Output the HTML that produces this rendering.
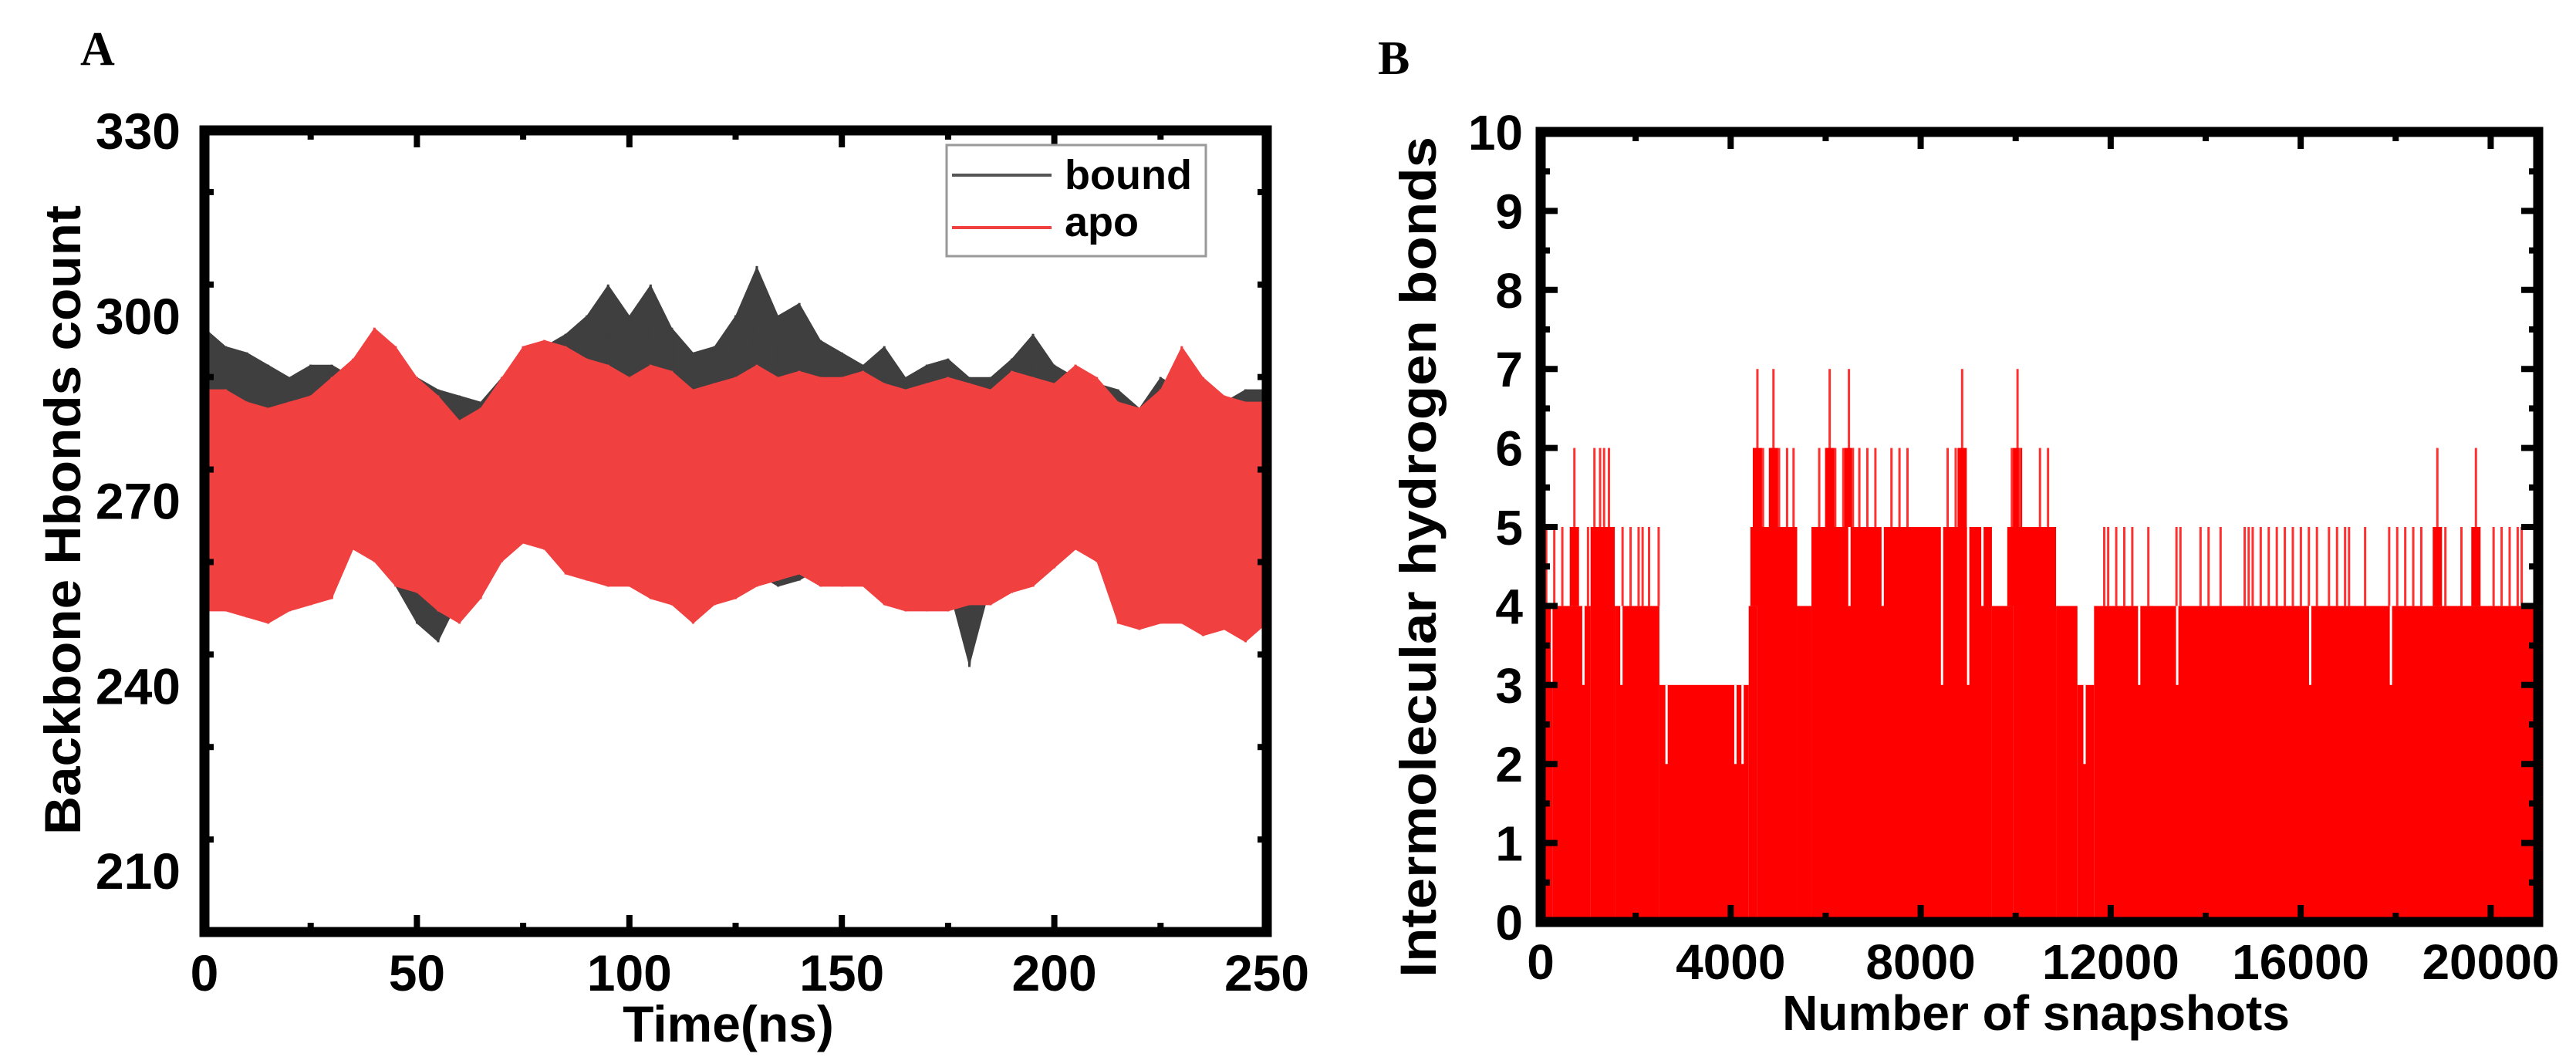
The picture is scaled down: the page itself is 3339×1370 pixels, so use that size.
<!DOCTYPE html>
<html><head><meta charset="utf-8"><style>
html,body{margin:0;padding:0;background:#fff;}
svg{display:block;font-family:"Liberation Sans",Arial,sans-serif;}
</style></head><body>
<svg id="fig" width="3339" height="1370" viewBox="0 0 3339 1370" xmlns="http://www.w3.org/2000/svg">
<text x="104" y="84" font-family="Liberation Serif,serif" font-weight="bold" font-size="62">A</text>
<text x="1786" y="96" font-family="Liberation Serif,serif" font-weight="bold" font-size="62">B</text>
<g id="pa"></g>
<g id="pb"></g>
</svg>
<script>
// ---- Panel A data (envelopes of Hbond count, per 5 ns) ----
const timeNs = [0,5,10,15,20,25,30,35,40,45,50,55,60,65,70,75,80,85,90,95,100,105,110,115,120,125,130,135,140,145,150,155,160,165,170,175,180,185,190,195,200,205,210,215,220,225,230,235,240,245,250];
const boundUpper = [298,295,294,292,290,292,292,290,288,290,290,288,287,286,290,292,295,297,300,305,300,305,298,294,295,300,308,300,302,296,294,292,295,290,292,293,290,290,293,297,292,290,289,288,285,290,288,285,286,288,288];
const boundLower = [258,255,254,256,257,256,256,264,262,256,250,247,254,258,262,265,263,260,259,258,258,258,257,256,256,258,258,256,257,259,262,260,259,258,257,256,243,256,257,258,262,265,262,254,251,252,252,254,255,256,254];
const apoUpper = [288,288,286,285,286,287,290,293,298,295,290,287,283,285,290,295,296,295,293,292,290,292,291,288,289,290,292,290,291,290,290,291,289,288,289,290,289,288,291,290,289,292,290,286,285,288,295,290,287,286,286];
const apoLower = [252,252,251,250,252,253,254,262,260,256,255,252,250,254,260,263,262,258,257,256,256,254,253,250,253,254,256,257,258,256,256,256,253,252,252,252,253,253,255,256,259,262,260,250,249,250,250,248,249,247,250];
const aXTicks = [0,50,100,150,200,250];
const aYTicks = [210,240,270,300,330];

// ---- Panel B data ----
const segStart = [0,250,1050,1560,2500,4380,4550,5400,5700,9500,9950,10850,11300,11650];
const segEnd   = [250,1050,1560,2500,4380,4550,5400,5700,9500,9950,10850,11300,11650,21000];
const segLevel = [3,4,5,4,3,4,5,4,5,4,5,4,3,4];
const spikeX = [118,287,456,710,997,1132,1251,1335,1437,1555,1724,1893,2062,2146,2282,2484,4512,4563,4681,4850,4901,5019,5188,5324,5864,6033,6084,6202,6371,6490,6574,6709,6878,7047,7385,7554,7723,8568,8737,8873,9920,10039,10089,10512,10681,11864,11948,12117,12286,12455,12793,13385,13469,13892,14061,14314,14821,14906,14990,15159,15328,15497,15666,15835,16004,16173,16342,16596,16765,16934,17018,17356,17863,18032,18201,18370,18539,18877,19046,19384,19689,20061,20230,20399,20568,20653];
const spikeVal = [5,5,5,6,5,6,6,6,6,5,5,5,5,5,5,5,6,7,6,6,7,6,6,6,6,6,7,6,6,7,6,6,6,6,6,6,6,6,6,7,6,7,6,6,6,5,5,5,5,5,5,5,5,5,5,5,5,5,5,5,5,5,5,5,5,5,5,5,5,5,5,5,5,5,5,5,5,6,5,5,6,5,5,5,5,5];
const dipX = [900,1700,2650,4100,4250,6500,7200,8450,9000,9300,11450,12600,13400,16200,17900];
const dipVal = [3,3,2,2,2,4,4,3,3,4,2,3,3,3,3];
const bXTicks = [0,4000,8000,12000,16000,20000];
const bYTicks = [0,1,2,3,4,5,6,7,8,9,10];

const NS = 'http://www.w3.org/2000/svg';
function mk(parent, tag, attrs, text) {
  const e = document.createElementNS(NS, tag);
  for (const k in attrs) e.setAttribute(k, attrs[k]);
  if (text !== undefined) e.textContent = text;
  parent.appendChild(e);
  return e;
}

// ---- Panel A ----
const A = {l:265, r:1642, t:169, b:1208, x0:0, x1:250, y0:200, y1:330};
const ax = v => A.l + (v - A.x0) / (A.x1 - A.x0) * (A.r - A.l);
const ay = v => A.b - (v - A.y0) / (A.y1 - A.y0) * (A.b - A.t);
const pa = document.getElementById('pa');

function band(up, lo, color, name) {
  const g = mk(pa, 'g', {});
  
  
  let pts = [];
  for (let i = 0; i < timeNs.length; i++) pts.push(ax(timeNs[i]) + ',' + ay(up[i]));
  for (let i = timeNs.length - 1; i >= 0; i--) pts.push(ax(timeNs[i]) + ',' + ay(lo[i]));
  const poly = mk(g, 'polygon', {points: pts.join(' '), fill: color});
  
  
  let z = [];
  for (let i = 0; i < timeNs.length; i++) {
    z.push(ax(timeNs[i]) + ',' + ay(up[i]));
    z.push(ax(timeNs[i]) + ',' + ay(lo[i]));
  }
  const line = mk(g, 'polyline', {points: z.join(' '), fill: 'none', stroke: color, 'stroke-width': 3});
  
  
}
band(boundUpper, boundLower, '#3f3f3f', 'series-bound');
band(apoUpper, apoLower, '#f04040', 'series-apo');

// A frame
const fa = mk(pa, 'rect', {x: A.l, y: A.t, width: A.r - A.l, height: A.b - A.t, fill: 'none', stroke: '#000', 'stroke-width': 13});


// ticks A
for (let v = 0; v <= 250; v += 25) {
  const major = v % 50 === 0, len = major ? 22 : 12;
  mk(pa, 'line', {x1: ax(v), x2: ax(v), y1: A.b, y2: A.b - len, stroke: '#000', 'stroke-width': 8});
  mk(pa, 'line', {x1: ax(v), x2: ax(v), y1: A.t, y2: A.t + len, stroke: '#000', 'stroke-width': 8});
}
for (let v = 200; v <= 330; v += 15) {
  const major = v % 30 === 0, len = major ? 22 : 12;
  mk(pa, 'line', {x1: A.l, x2: A.l + len, y1: ay(v), y2: ay(v), stroke: '#000', 'stroke-width': 8});
  mk(pa, 'line', {x1: A.r, x2: A.r - len, y1: ay(v), y2: ay(v), stroke: '#000', 'stroke-width': 8});
}
aXTicks.forEach(v => {
  const t = mk(pa, 'text', {x: ax(v), y: 1284, 'text-anchor': 'middle', 'font-size': 66, 'font-weight': 'bold'}, String(v));
  
  
});
aYTicks.forEach(v => {
  const t = mk(pa, 'text', {x: 234, y: ay(v) + 24, 'text-anchor': 'end', 'font-size': 66, 'font-weight': 'bold'}, String(v));
  
  
});
const axt = mk(pa, 'text', {x: 944, y: 1350, 'text-anchor': 'middle', 'font-size': 66, 'font-weight': 'bold'}, 'Time(ns)');


const ayt = mk(pa, 'text', {x: 0, y: 0, 'text-anchor': 'middle', 'font-size': 66, 'font-weight': 'bold', transform: 'translate(104,674) rotate(-90)', textLength: 816, lengthAdjust: 'spacingAndGlyphs'}, 'Backbone Hbonds  count');


// legend
const lg = mk(pa, 'g', {});


mk(lg, 'rect', {x: 1227, y: 188, width: 336, height: 144, fill: '#fff', stroke: '#999', 'stroke-width': 3});
const e1 = mk(lg, 'g', {});


mk(e1, 'line', {x1: 1234, x2: 1363, y1: 227, y2: 227, stroke: '#555', 'stroke-width': 4});
mk(e1, 'text', {x: 1380, y: 245, 'font-size': 54, 'font-weight': 'bold'}, 'bound');
const e2 = mk(lg, 'g', {});


mk(e2, 'line', {x1: 1234, x2: 1363, y1: 295, y2: 295, stroke: '#f04040', 'stroke-width': 4});
mk(e2, 'text', {x: 1380, y: 306, 'font-size': 54, 'font-weight': 'bold'}, 'apo');

// ---- Panel B ----
const B = {l:1997, r:3290, t:171, b:1195, x0:0, x1:21000, y0:0, y1:10};
const bx = v => B.l + (v - B.x0) / (B.x1 - B.x0) * (B.r - B.l);
const by = v => B.b - (v - B.y0) / (B.y1 - B.y0) * (B.b - B.t);
const pb = document.getElementById('pb');
const RED = '#ff0000';
for (let i = 0; i < segStart.length; i++) {
  const r = mk(pb, 'rect', {x: bx(segStart[i]), y: by(segLevel[i]), width: bx(segEnd[i]) - bx(segStart[i]), height: by(0) - by(segLevel[i]), fill: RED});
  
  
}
function levelAt(x) {
  for (let i = 0; i < segStart.length; i++) if (x >= segStart[i] && x < segEnd[i]) return segLevel[i];
  return 0;
}
for (let i = 0; i < spikeX.length; i++) {
  const base = levelAt(spikeX[i]);
  const l = mk(pb, 'line', {x1: bx(spikeX[i]), x2: bx(spikeX[i]), y1: by(base), y2: by(spikeVal[i]), stroke: '#ff3030', 'stroke-width': 3});
  
  
  if (spikeVal[i] - base > 1) {
    const w = mk(pb, 'rect', {x: bx(spikeX[i]) - 6, y: by(base + 1), width: 12, height: by(base) - by(base + 1), fill: RED});
    
    
  }
}
for (let i = 0; i < dipX.length; i++) {
  const base = levelAt(dipX[i]);
  const l = mk(pb, 'line', {x1: bx(dipX[i]), x2: bx(dipX[i]), y1: by(base), y2: by(dipVal[i]), stroke: '#fff', 'stroke-width': 3});
  
  
}
const fb = mk(pb, 'rect', {x: B.l, y: B.t, width: B.r - B.l, height: B.b - B.t, fill: 'none', stroke: '#000', 'stroke-width': 13});


for (let v = 0; v <= 21000; v += 2000) {
  const major = v % 4000 === 0, len = major ? 22 : 12;
  mk(pb, 'line', {x1: bx(v), x2: bx(v), y1: B.b, y2: B.b - len, stroke: '#000', 'stroke-width': 8});
  mk(pb, 'line', {x1: bx(v), x2: bx(v), y1: B.t, y2: B.t + len, stroke: '#000', 'stroke-width': 8});
}
for (let v = 0; v <= 10; v += 0.5) {
  const major = v % 1 === 0, len = major ? 22 : 12;
  mk(pb, 'line', {x1: B.l, x2: B.l + len, y1: by(v), y2: by(v), stroke: '#000', 'stroke-width': 8});
  mk(pb, 'line', {x1: B.r, x2: B.r - len, y1: by(v), y2: by(v), stroke: '#000', 'stroke-width': 8});
}
bXTicks.forEach(v => {
  const t = mk(pb, 'text', {x: bx(v), y: 1269, 'text-anchor': 'middle', 'font-size': 64, 'font-weight': 'bold'}, String(v));
  
  
});
bYTicks.forEach(v => {
  const t = mk(pb, 'text', {x: 1974, y: by(v) + 23, 'text-anchor': 'end', 'font-size': 64, 'font-weight': 'bold'}, String(v));
  
  
});
const bxt = mk(pb, 'text', {x: 2639, y: 1335, 'text-anchor': 'middle', 'font-size': 64, 'font-weight': 'bold'}, 'Number of snapshots');


const byt = mk(pb, 'text', {x: 0, y: 0, 'text-anchor': 'middle', 'font-size': 66, 'font-weight': 'bold', transform: 'translate(1861,722) rotate(-90)', textLength: 1090, lengthAdjust: 'spacingAndGlyphs'}, 'Intermolecular hydrogen bonds');


</script>
</body></html>
